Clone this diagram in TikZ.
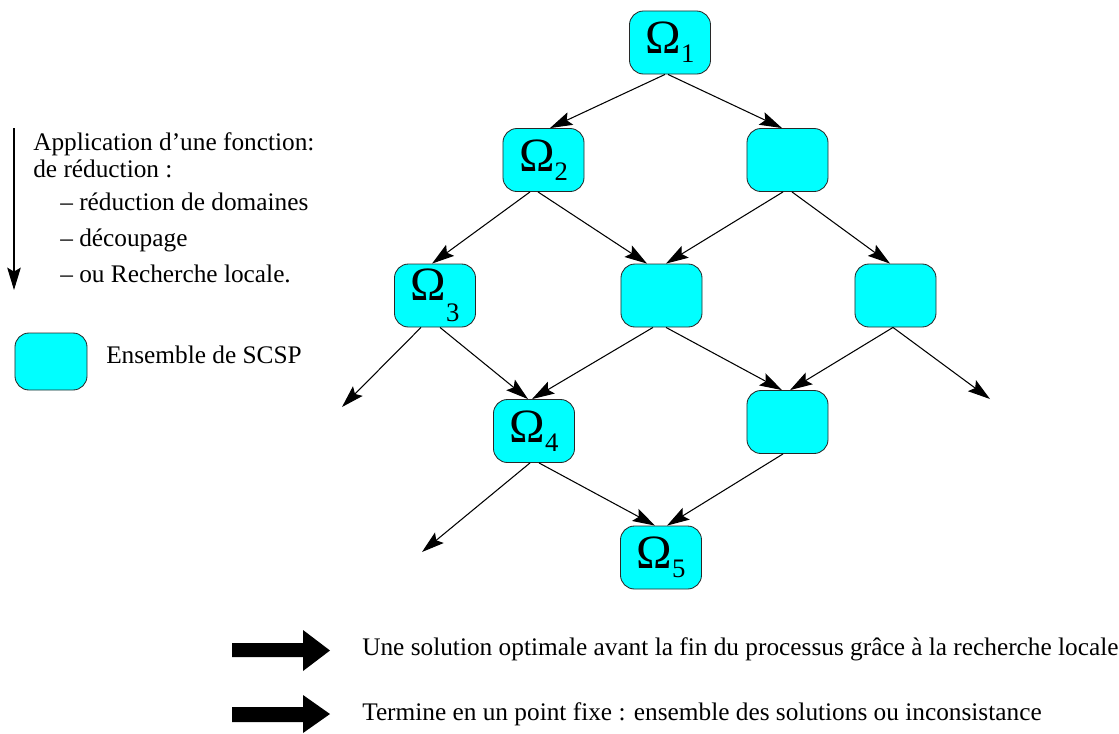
\documentclass[tikz,border=0pt]{standalone}
\usepackage{fontspec}
\setmainfont{Liberation Serif}
\usetikzlibrary{arrows.meta,calc}
\definecolor{setcyan}{RGB}{0,255,255}
\definecolor{setedge}{RGB}{40,40,40}

\tikzset{
  scsp/.style={draw=setedge, fill=setcyan, rounded corners=0.35cm, minimum width=2.025cm, minimum height=1.575cm, inner sep=0pt, line width=0.6pt},
  trans/.style={-{Stealth[length=0.56cm,width=0.34cm,inset=0.1cm]}, line width=0.75pt},
  txt/.style={anchor=base west, inner sep=0pt, font=\fontsize{18}{20}\selectfont}
}
\newcommand{\omsub}[2][-6.4pt]{{\fontsize{34}{34}\selectfont Ω}{\fontsize{19}{19}\selectfont\raisebox{#1}{#2}}}

\begin{document}
\begin{tikzpicture}[x=0.025cm, y=-0.025cm]
\useasboundingbox (0,0) rectangle (1119,733);

% legende
\coordinate (ltop) at (14,128);
\coordinate (lbot) at (14,290);
\draw[trans] (ltop) -- (lbot);
\node[txt] (l1) at (33,150) {Application d’une fonction:};
\node[txt] (l2) at (33,177) {de réduction :};
\node[txt] (l3) at (60,210) {– réduction de domaines};
\node[txt] (l4) at (60,246) {– découpage};
\node[txt] (l5) at (60,282) {– ou Recherche locale.};
\node[scsp, minimum width=1.8cm, minimum height=1.425cm] (lbox) at (51,361.5) {};
\node[txt] (lens) at (106,363) {Ensemble de SCSP};

% treillis des ensembles
\node[scsp] (o1) at (670,42.5) {\omsub{1}};
\node[scsp] (o2) at (543.5,160) {\omsub{2}};
\node[scsp] (b2) at (787.5,160) {};
\node[scsp] (o3) at (435,295.5) {\omsub[-15pt]{3}};
\node[scsp] (m3) at (661.5,295.5) {};
\node[scsp] (r3) at (895.5,295.5) {};
\node[scsp] (o4) at (534,431) {\omsub{4}};
\node[scsp] (b4) at (787.5,422) {};
\node[scsp] (o5) at (661,557.5) {\omsub{5}};

% sorties libres
\coordinate (f3) at (342,407);
\coordinate (fr) at (990,399);
\coordinate (f4) at (422,552);

% fleches
\draw[trans] ($(o1.south)+(-5,0)$) -- ($(o2.north)+(6.5,0)$);
\draw[trans] ($(o1.south)+(-2,0)$) -- ($(b2.north)+(-5.5,0)$);
\draw[trans] ($(o2.south)+(-13.5,0)$) -- ($(o3.north)+(-3,0)$);
\draw[trans] ($(o2.south)+(-5.5,0)$) -- ($(m3.north)+(-14.5,0)$);
\draw[trans] ($(b2.south)+(-4.5,0)$) -- ($(m3.north)+(4.5,0)$);
\draw[trans] ($(b2.south)+(4.5,0)$) -- ($(r3.north)+(-5.5,0)$);
\draw[trans] ($(o3.south)+(-14,0)$) -- (f3);
\draw[trans] ($(o3.south)+(5,0)$) -- ($(o4.north)+(-6,0)$);
\draw[trans] ($(m3.south)+(-8.5,0)$) -- ($(o4.north)+(-2,0)$);
\draw[trans] ($(m3.south)+(4.5,0)$) -- ($(b4.north)+(-5.5,0)$);
\draw[trans] ($(r3.south)+(-2.5,0)$) -- ($(b4.north)+(2.5,0)$);
\draw[trans] ($(r3.south)+(-2.5,0)$) -- (fr);
\draw[trans] ($(o4.south)+(-4,0)$) -- (f4);
\draw[trans] ($(o4.south)+(5,0)$) -- ($(o5.north)+(-6,0)$);
\draw[trans] ($(b4.south)+(-4.5,0)$) -- ($(o5.north)+(6,0)$);

% conclusions
\fill (232,643) -- (303,643) -- (303,630) -- (330,650.5) -- (303,671) -- (303,657) -- (232,657) -- cycle;
\fill (232,707) -- (303,707) -- (303,695) -- (330,714) -- (303,733) -- (303,722) -- (232,722) -- cycle;
\node[txt] (c1) at (362,655) {Une solution optimale avant la fin du processus grâce à la recherche locale};
\node[txt] (c2) at (362,720) {Termine en un point fixe : ensemble des solutions ou inconsistance};
\end{tikzpicture}
\end{document}
